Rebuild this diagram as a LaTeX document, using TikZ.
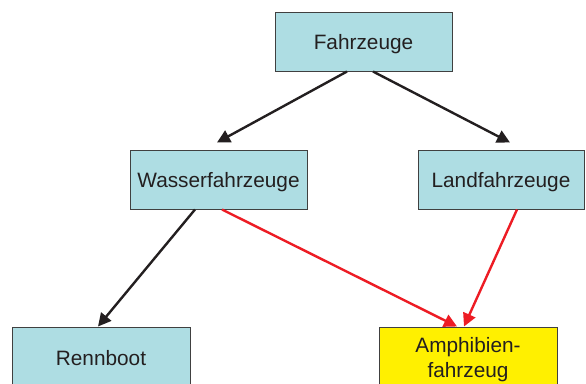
\documentclass[tikz,border=0pt]{standalone}
\usepackage{fontspec}
\setmainfont{Liberation Sans}
\usetikzlibrary{arrows.meta}
\definecolor{boxblue}{RGB}{174,221,227}
\definecolor{boxyellow}{RGB}{255,240,0}
\definecolor{linkred}{RGB}{237,28,36}
\definecolor{inkdark}{RGB}{35,31,32}
\definecolor{framegray}{RGB}{64,64,64}
\begin{document}
\begin{tikzpicture}[x=1pt,y=-1pt,
  box/.style={draw=framegray,line width=1pt,fill=boxblue,minimum height=59pt,
    inner sep=0pt,align=center,text=inkdark,text height=21pt,text depth=4.5pt,
    font=\fontsize{20.8}{25}\selectfont},
  yellowbox/.style={box,fill=boxyellow,text height=45pt},
  link/.style={draw=inkdark,line width=2.4pt,
    -{Triangle[length=13pt,width=13pt]}},
  redlink/.style={link,draw=linkred}]
  \useasboundingbox (0,0) rectangle (586,383);
  % hierarchy boxes
  \node[box,minimum width=177pt] (F) at (363.5,41.5) {Fahrzeuge};
  \node[box,minimum width=177pt] (W) at (218.5,179.5) {Wasserfahrzeuge};
  \node[box,minimum width=166pt] (L) at (501,179.5) {Landfahrzeuge};
  \node[box,minimum width=178pt,minimum height=60pt] (R) at (101,357) {Rennboot};
  \node[yellowbox,minimum width=178pt,minimum height=60pt] (A) at (468,357)
    {Amphibien-\\fahrzeug};
  % black specialisation arrows
  \draw[link] ([xshift=-16.5pt]F.south) -- ([xshift=-1.5pt,yshift=7pt]W.north);
  \draw[link] ([xshift=9.5pt]F.south) -- ([xshift=9pt,yshift=7pt]L.north);
  \draw[link] ([xshift=-23.5pt]W.south) -- ([xshift=-3pt]R.north);
  % red arrows into the amphibious vehicle
  \draw[redlink] ([xshift=3.5pt]W.south) -- ([xshift=-11pt]A.north);
  \draw[redlink] ([xshift=16pt]L.south) -- ([xshift=-4pt]A.north);
\end{tikzpicture}
\end{document}
